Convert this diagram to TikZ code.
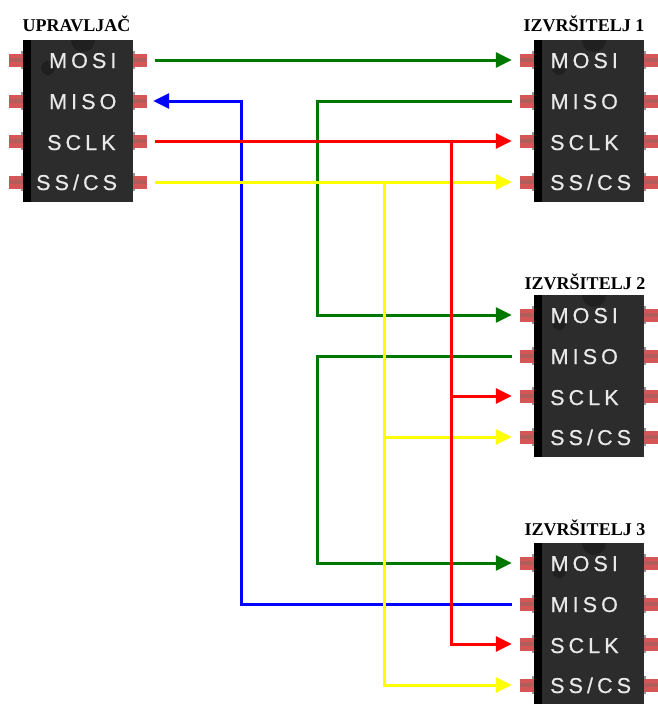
\documentclass[tikz,border=0pt]{standalone}
\usepackage{fontspec}
\newfontfamily\chipfont[LetterSpace=19,FakeBold=0.6]{Liberation Sans}
\newfontfamily\titlefont{Liberation Serif}
\usetikzlibrary{arrows.meta}
\definecolor{pinred}{RGB}{212,86,86}
\definecolor{pinstripe}{RGB}{178,92,92}
\definecolor{pinjoin}{RGB}{150,150,150}
\definecolor{chipbody}{RGB}{44,44,44}
\definecolor{chipdark}{RGB}{32,32,32}
\definecolor{chiptext}{RGB}{232,232,232}
\definecolor{wgreen}{RGB}{0,120,0}
\definecolor{wblue}{RGB}{0,0,255}
\definecolor{wred}{RGB}{255,0,0}
\definecolor{wyellow}{RGB}{255,255,0}
\tikzset{
  chippin/.style={rectangle, minimum width=14pt, minimum height=13pt, inner sep=0pt, fill=pinred,
    path picture={\fill[pinstripe] ([yshift=-2pt]path picture bounding box.west) rectangle ([yshift=2pt]path picture bounding box.east);}},
  pinlabel/.style={anchor=base west, inner sep=0pt, text=chiptext, font=\chipfont\fontsize{21.5}{21.5}\selectfont},
  chiptitle/.style={anchor=base, inner sep=0pt, font=\titlefont\bfseries\fontsize{18}{18}\selectfont},
  wire/.style={line width=3pt},
  wirearrow/.style={wire, -{Triangle[length=16pt,width=15pt]}},
}
\newcommand\mkchip[3]{%
  \foreach \dy in {20,61,101,142} {
    \fill[pinjoin] (#2-2,#3+\dy-9) rectangle (#2+2,#3+\dy+9);
    \fill[pinjoin] (#2+108,#3+\dy-9) rectangle (#2+112,#3+\dy+9);
  }
  \fill[chipbody] (#2,#3) rectangle (#2+110,#3+162);
  \fill[black] (#2,#3) rectangle (#2+8,#3+162);
  \begin{scope}
    \clip (#2,#3) rectangle (#2+110,#3+162);
    \fill[chipdark] (#2+60,#3) circle[radius=12];
    \fill[chipdark] (#2+25,#3+28) circle[radius=7];
  \end{scope}
  \foreach \i/\dy in {1/20,2/61,3/101,4/142} {
    \node[chippin] (#1-L\i) at (#2-7,#3+\dy) {};
    \node[chippin] (#1-R\i) at (#2+117,#3+\dy) {};
  }
}
\begin{document}
\begin{tikzpicture}[x=1pt,y=-1pt]
\useasboundingbox (0,0) rectangle (657,704);
\fill[white] (0,0) rectangle (657,704);

% chips
\mkchip{M}{23}{40}
\mkchip{SA}{534}{40}
\mkchip{SB}{534}{295}
\mkchip{SC}{534}{543}

% titles
\node[chiptitle] (tM) at (76.5,31) {UPRAVLJAČ};
\node[chiptitle] (tA) at (584,31) {IZVRŠITELJ 1};
\node[chiptitle] (tB) at (585,289) {IZVRŠITELJ 2};
\node[chiptitle] (tC) at (585,535) {IZVRŠITELJ 3};

% master labels
\node[pinlabel] (mM1) at (49,68) {MOSI};
\node[pinlabel] (mM2) at (49,109) {MISO};
\node[pinlabel] (mM3) at (47,150) {SCLK};
\node[pinlabel] (mM4) at (36,190) {SS/CS};
% slave labels
\foreach \s/\t in {SA/40,SB/295,SC/543} {
  \node[pinlabel] (\s-t1) at (550.5,\t+28) {MOSI};
  \node[pinlabel] (\s-t2) at (550.5,\t+69) {MISO};
  \node[pinlabel] (\s-t3) at (550,\t+110) {SCLK};
  \node[pinlabel] (\s-t4) at (550,\t+150) {SS/CS};
}

% bus x positions
\coordinate (bx) at (241,0);
\coordinate (gx) at (317,0);
\coordinate (yx) at (384,0);
\coordinate (rx) at (451,0);

% blue MISO return
\draw[wirearrow, wblue] ([xshift=-8pt]SC-L2.west) -| (bx |- M-R2) -- ([xshift=6pt]M-R2.east);
% green MOSI chain
\draw[wirearrow, wgreen] ([xshift=8pt]M-R1.east) -- ([xshift=-8pt]SA-L1.west);
\draw[wirearrow, wgreen] ([xshift=-8pt]SA-L2.west) -| (gx |- SB-L1) -- ([xshift=-8pt]SB-L1.west);
\draw[wirearrow, wgreen] ([xshift=-8pt]SB-L2.west) -| (gx |- SC-L1) -- ([xshift=-8pt]SC-L1.west);
% yellow SS/CS
\draw[wirearrow, wyellow] ([xshift=8pt]M-R4.east) -- ([xshift=-8pt]SA-L4.west);
\draw[wirearrow, wyellow] (yx |- M-R4) |- ([xshift=-8pt]SC-L4.west);
\draw[wirearrow, wyellow] (yx |- SB-L4) -- ([xshift=-8pt]SB-L4.west);
% red SCLK
\draw[wirearrow, wred] ([xshift=8pt]M-R3.east) -- ([xshift=-8pt]SA-L3.west);
\draw[wirearrow, wred] (rx |- M-R3) |- ([xshift=-8pt]SC-L3.west);
\draw[wirearrow, wred] (rx |- SB-L3) -- ([xshift=-8pt]SB-L3.west);
\end{tikzpicture}
\end{document}
